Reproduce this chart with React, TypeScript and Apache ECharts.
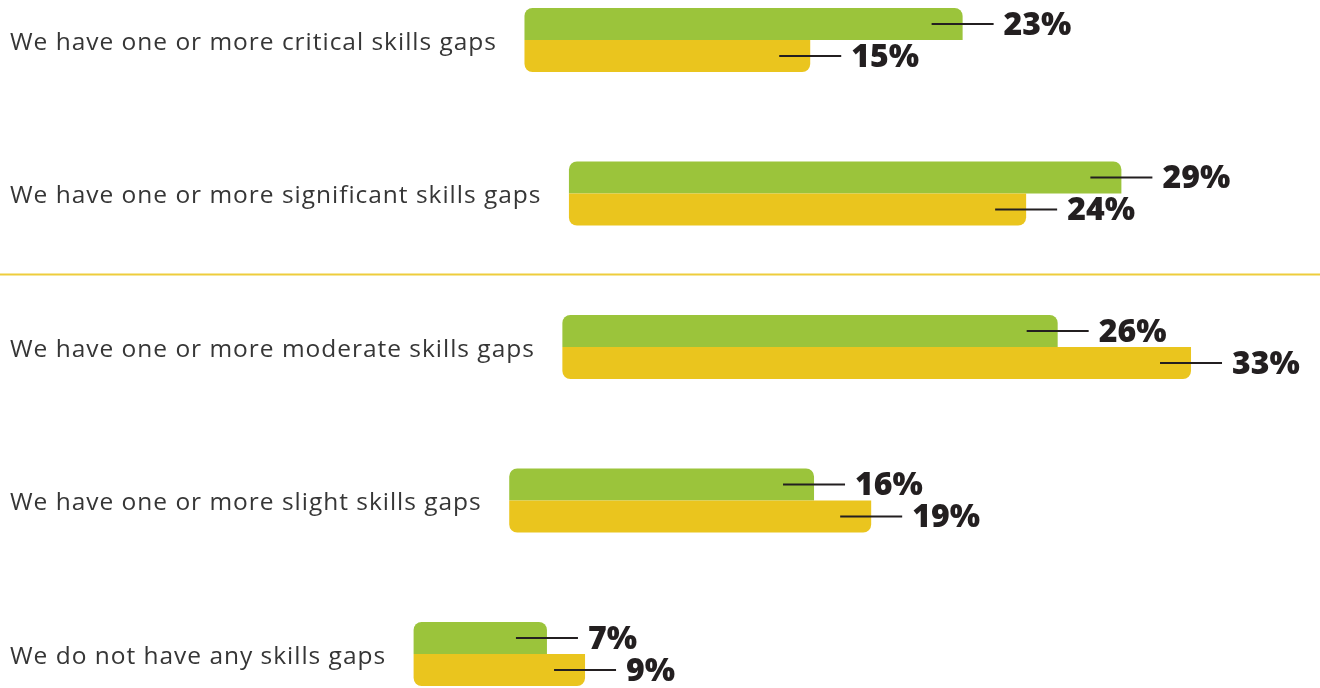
import React, { useEffect, useRef } from "react";
import * as echarts from "echarts";

const categories = [
  "We have one or more critical skills gaps",
  "We have one or more significant skills gaps",
  "We have one or more moderate skills gaps",
  "We have one or more slight skills gaps",
  "We do not have any skills gaps",
];
const greenValues = [23, 29, 26, 16, 7];
const yellowValues = [15, 24, 33, 19, 9];

const GREEN = "#9bc43b";
const YELLOW = "#eac51e";
const LABEL_FONT_SIZE = 24.5;
const LABEL_SPACING = 0.98;
const LABEL_FONT = "'Open Sans', sans-serif";
const VALUE_FONT = "800 32px 'Open Sans', sans-serif";
const PX_PER_PCT = 19.05;
const GRID_LEFT = 10;
const GRID_WIDTH = 1300;
const TEXT_GAP = 27.5;
const BAND = 153.5;
const FIRST_CENTER = 40;

function measure(text: string): number {
  const c = document.createElement("canvas");
  const ctx = c.getContext("2d");
  if (!ctx) return text.length * 12;
  ctx.font = `${LABEL_FONT_SIZE}px 'Open Sans'`;
  return ctx.measureText(text).width + text.length * LABEL_SPACING;
}

export default function App() {
  const ref = useRef<HTMLDivElement>(null);
  useEffect(() => {
    if (!ref.current) return;
    const chart = echarts.init(ref.current, null, { renderer: "svg" });
    const offsets = categories.map((c) => (measure(c) + TEXT_GAP) / PX_PER_PCT);
    const labelData: number[][] = [];
    categories.forEach((_, i) => {
      labelData.push([offsets[i] + greenValues[i], i, 0, greenValues[i]]);
      labelData.push([offsets[i] + yellowValues[i], i, 1, yellowValues[i]]);
    });
    chart.setOption({
      animation: false,
      grid: {
        left: GRID_LEFT,
        width: GRID_WIDTH,
        top: FIRST_CENTER - BAND / 2,
        height: BAND * categories.length,
        outerBoundsMode: "none",
        containLabel: false,
      },
      xAxis: {
        type: "value",
        min: 0,
        max: GRID_WIDTH / PX_PER_PCT,
        show: false,
      },
      yAxis: {
        type: "category",
        data: categories,
        inverse: true,
        axisLine: { show: false },
        axisTick: { show: false },
        splitLine: { show: false },
        axisLabel: {
          align: "left",
          margin: 0,
          fontSize: LABEL_FONT_SIZE,
          fontFamily: LABEL_FONT,
          color: "#363636",
        },
      },
      graphic: [
        {
          type: "line",
          shape: { x1: 0, y1: 274.5, x2: 1320, y2: 274.5 },
          style: { stroke: "#eecd3c", lineWidth: 2 },
          silent: true,
        },
      ],
      series: [
        {
          type: "bar",
          stack: "g",
          data: offsets,
          barWidth: 32,
          barGap: "0%",
          itemStyle: { color: "transparent" },
          silent: true,
        },
        {
          name: "Green",
          type: "bar",
          stack: "g",
          data: greenValues,
          barWidth: 32,
          barGap: "0%",
          itemStyle: { color: GREEN, borderRadius: [8, 8, 0, 0] },
        },
        {
          type: "bar",
          stack: "y",
          data: offsets,
          barWidth: 32,
          barGap: "0%",
          itemStyle: { color: "transparent" },
          silent: true,
        },
        {
          name: "Yellow",
          type: "bar",
          stack: "y",
          data: yellowValues,
          barWidth: 32,
          barGap: "0%",
          itemStyle: { color: YELLOW, borderRadius: [0, 0, 8, 8] },
        },
        {
          type: "custom",
          data: labelData,
          encode: { x: 0, y: 1 },
          silent: true,
          z: 10,
          renderItem: (params: any, api: any) => {
            const x = api.value(0);
            const cat = api.value(1);
            const which = api.value(2);
            const v = api.value(3);
            const pt = api.coord([x, cat]);
            const y = pt[1] + (which === 0 ? -16 : 16);
            return {
              type: "group",
              children: [
                {
                  type: "line",
                  shape: { x1: pt[0] - 31, y1: y, x2: pt[0] + 31, y2: y },
                  style: { stroke: "#231f20", lineWidth: 2 },
                },
                {
                  type: "text",
                  x: pt[0] + 41,
                  y: y - 2,
                  style: {
                    text: v + "%",
                    fill: "#231f20",
                    font: VALUE_FONT,
                    textAlign: "left",
                    textVerticalAlign: "middle",
                  },
                },
              ],
            };
          },
        },
      ],
    });
    return () => chart.dispose();
  }, []);
  return (
    <>
      <style>{`text[style*="24.5px"] { letter-spacing: ${LABEL_SPACING}px; }`}</style>
      <div
        ref={ref}
        style={{ position: "fixed", left: 0, top: 0, width: 1320, height: 688 }}
      />
    </>
  );
}
